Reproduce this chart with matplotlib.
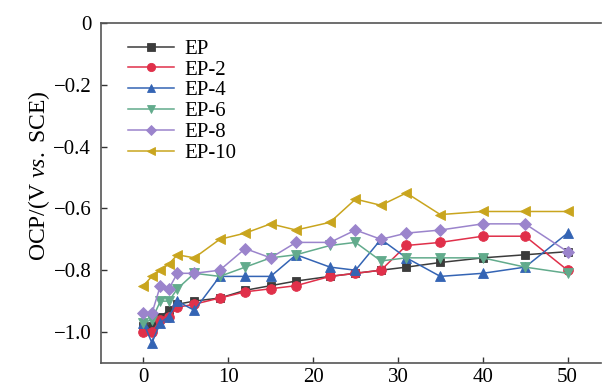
import matplotlib
matplotlib.use('Agg')
import matplotlib.pyplot as plt

plt.rcParams['font.family'] = 'Liberation Serif'
plt.rcParams['mathtext.fontset'] = 'custom'
plt.rcParams['mathtext.rm'] = 'Liberation Serif'
plt.rcParams['mathtext.it'] = 'Liberation Serif:italic'

time = [0, 1, 2, 3, 4, 6, 9, 12, 15, 18, 22, 25, 28, 31, 35, 40, 45, 50]

ep = [-0.98, -0.98, -0.95, -0.93, -0.91, -0.90, -0.89, -0.865, -0.85, -0.835, -0.82,
      -0.81, -0.80, -0.79, -0.775, -0.76, -0.75, -0.74]
ep2 = [-1.00, -1.00, -0.96, -0.95, -0.92, -0.91, -0.89, -0.87, -0.86, -0.85, -0.82,
       -0.81, -0.80, -0.72, -0.71, -0.69, -0.69, -0.80]
ep4 = [-0.97, -1.035, -0.97, -0.95, -0.90, -0.93, -0.82, -0.82, -0.82, -0.75, -0.79,
       -0.80, -0.70, -0.76, -0.82, -0.81, -0.79, -0.68]
ep6 = [-0.97, -0.96, -0.90, -0.90, -0.86, -0.81, -0.82, -0.79, -0.76, -0.75, -0.72,
       -0.71, -0.77, -0.76, -0.76, -0.76, -0.79, -0.81]
ep8 = [-0.94, -0.94, -0.85, -0.86, -0.81, -0.81, -0.80, -0.73, -0.76, -0.71, -0.71,
       -0.67, -0.70, -0.68, -0.67, -0.65, -0.65, -0.74]
ep10 = [-0.85, -0.82, -0.80, -0.78, -0.75, -0.76, -0.70, -0.68, -0.65, -0.67, -0.645,
        -0.57, -0.59, -0.55, -0.62, -0.61, -0.61, -0.61]

labels = ['EP', 'EP-2', 'EP-4', 'EP-6', 'EP-8', 'EP-10']
series = [ep, ep2, ep4, ep6, ep8, ep10]
colors = ['#3c3c3c', '#e0304a', '#3464b4', '#62ab8c', '#9b84cc', '#c9a51e']
markers = ['s', 'o', '^', 'v', 'D', '<']
msizes = [6, 7, 7, 7, 6, 7]

fig = plt.figure(figsize=(6.03, 3.89), dpi=100)
ax = fig.add_axes([0.1675, 0.067, 0.83, 0.874])

for y, lab, c, m, ms in zip(series, labels, colors, markers, msizes):
    ax.plot(time, y, color=c, marker=m, markersize=ms, lw=1.1, label=lab,
            markeredgewidth=0.6, markeredgecolor=c)

ax.set_xlim(-5, 54)
ax.set_ylim(-1.1, 0)
ax.set_xticks(range(0, 51, 10))
ax.set_yticks([0, -0.2, -0.4, -0.6, -0.8, -1.0])
ax.set_yticklabels(['0', '\u22120.2', '\u22120.4', '\u22120.6', '\u22120.8', '\u22121.0'])
ax.tick_params(direction='in', labelsize=15, length=4, width=1, colors='#333333',
               labelcolor='black')
ax.tick_params(axis='y', pad=7)
ax.spines['right'].set_visible(False)
for s in ['left', 'bottom', 'top']:
    ax.spines[s].set_linewidth(1.2)
    ax.spines[s].set_color('#555555')

ax.set_ylabel(r'OCP/(V $\it{vs.}$ SCE)', fontsize=17)
ax.yaxis.set_label_coords(-0.098, 0.55)

ax.legend(loc='upper left', frameon=False, fontsize=15, handlelength=2.2,
          labelspacing=0.06, handletextpad=0.5, borderaxespad=0.3,
          bbox_to_anchor=(0.025, 0.995), markerscale=0.85)

fig.savefig('out.png', dpi=100)
